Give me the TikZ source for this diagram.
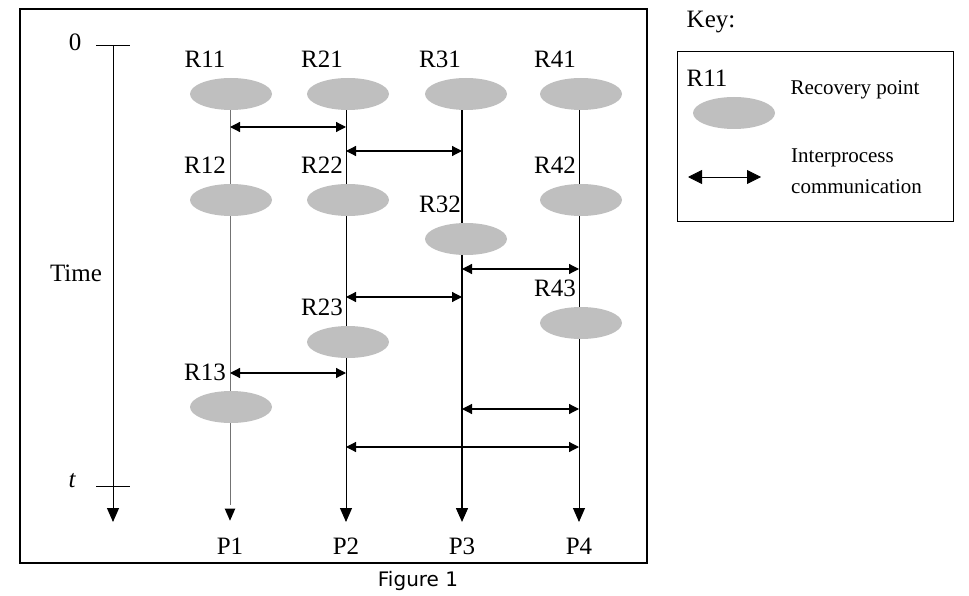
\documentclass[tikz,border=0pt]{standalone}
\usepackage{fontspec}
\setmainfont{Liberation Serif}
\newfontfamily\figfont{DejaVu Sans}
\usetikzlibrary{arrows.meta,shapes.geometric}
\begin{document}
\begin{tikzpicture}[x=1pt,y=-1pt,
  rp/.style={ellipse,fill=black!25,minimum width=82pt,minimum height=32pt,inner sep=0pt},
  lbl/.style={font=\fontsize{25}{25}\selectfont,inner sep=0pt},
  kt/.style={font=\fontsize{21}{21}\selectfont,inner sep=0pt},
  proc/.style={line width=1pt,-{Triangle[length=14pt,width=12pt]}},
  msg/.style={line width=1.2pt,{Triangle[length=10pt,width=10pt]}-{Triangle[length=10pt,width=10pt]}}]
\useasboundingbox (0,0) rectangle (969,596);
\draw[line width=1.2pt] (20,9) rectangle (647,563);
% time axis
\coordinate (t0) at (113,45); \coordinate (tend) at (113,522);
\draw (96,45) -- (130,45); \draw (96,486) -- (130,486);
\draw[proc] (t0) -- (tend);
\node[lbl] (zero) at (75,42) {0};
\node[lbl,font=\fontsize{25}{25}\selectfont\itshape] (tt) at (72,481) {t};
\node[lbl] (time) at (76,273) {Time};
% process lines
\coordinate (s1) at (230,110); \coordinate (s2) at (346,110);
\coordinate (s3) at (462,110); \coordinate (s4) at (579,110);
\coordinate (e1) at (230,522); \coordinate (e2) at (346,522);
\coordinate (e3) at (462,522); \coordinate (e4) at (579,522);
\draw[line width=1pt,black!55] (s1) -- (230,505);
\draw[proc,draw opacity=0] (s1) -- (e1);
\draw[proc] (s2) -- (e2);
\draw[proc,line width=1.5pt] (s3) -- (e3);
\draw[proc] (s4) -- (e4);
% recovery points
\foreach \n/\x/\y in {R11/231/94,R21/348/94,R31/466/94,R41/581/94,R12/231/200,R22/348/200,R42/581/200,R32/466/239,R23/348/342,R43/581/323,R13/231/407}
  {\node[rp] (\n) at (\x,\y) {}; \node[lbl] (L\n) at (\x-26,\y-35) {\n};}
\node[lbl] (P1) at (230,546) {P1}; \node[lbl] (P2) at (346,546) {P2};
\node[lbl] (P3) at (462,546) {P3}; \node[lbl] (P4) at (579,546) {P4};
% messages
\foreach \i/\a/\b/\y in {1/230/346/127,2/346/462/151,3/462/579/269,4/346/462/297,5/230/346/373,6/462/579/409,7/346/579/447}
  {\coordinate (ma\i) at (\a,\y); \coordinate (mb\i) at (\b,\y); \draw[msg] (ma\i) -- (mb\i);}
% key
\node[lbl] (key) at (711,22) {Key:};
\draw[line width=1pt] (677,52) rectangle (953,222);
\node[lbl] (kR) at (707,78) {R11};
\node[rp] (kE) at (734,113) {};
\node[kt] (krp) at (855,90) {Recovery point};
\node[kt,anchor=west] (kip) at (791,158) {Interprocess};
\node[kt,anchor=west] (kcm) at (791,187) {communication};
\coordinate (ka) at (688,177); \coordinate (kb) at (761,177);
\draw[line width=0.8pt,{Triangle[length=14pt,width=14pt]}-{Triangle[length=14pt,width=14pt]}] (ka) -- (kb);
\node[font=\figfont\fontsize{20}{20}\selectfont,inner sep=0pt] (fig) at (418,581) {Figure 1};
\end{tikzpicture}
\end{document}
